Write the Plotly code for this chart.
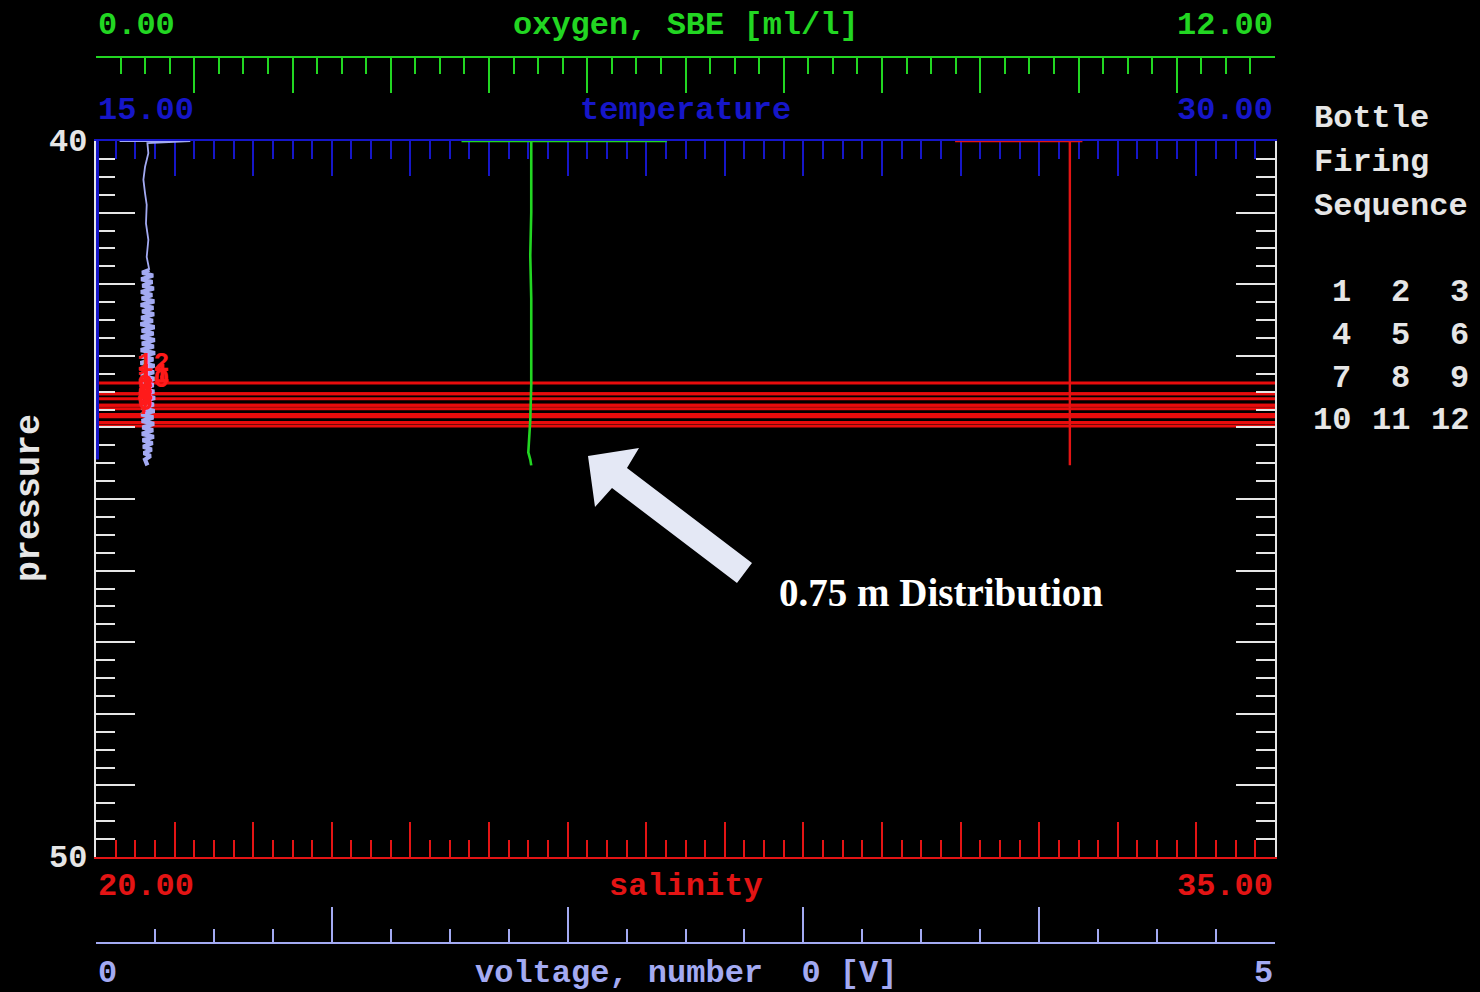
import plotly.graph_objects as go

# ---------------------------------------------------------------------------
# CTD cast, 40-50 dbar window (Seasave style display)
# ---------------------------------------------------------------------------

# oxygen, SBE [ml/l] -- first three points sit on the 40 dbar edge
oxy_pressure = [40.0, 40.0, 40.0, 40.5, 41.0, 41.6, 42.2, 42.8, 43.4, 43.9, 44.2, 44.35, 44.45, 44.53]
oxygen = [5.81, 3.72, 4.43, 4.43, 4.43, 4.42, 4.43, 4.43, 4.43, 4.42, 4.41, 4.40, 4.42, 4.43]

# salinity [PSU]
sal_pressure = [40.0, 40.0, 40.0, 40.8, 41.6, 42.4, 43.2, 44.0, 44.53]
salinity = [30.93, 32.55, 32.39, 32.39, 32.39, 32.39, 32.39, 32.39, 32.39]

# temperature [deg C] -- below the 15 deg scale, so the trace rests on the lower bound
temp_pressure = [40.0, 44.45]
temperature = [15.0, 15.0]

# voltage channel 0 [V] -- quiet above ~41.8 dbar, noisy below
volt_pressure = [40.0, 40.0, 40.03, 40.17, 40.36, 40.54, 40.73, 40.89, 41.15, 41.38, 41.62, 41.80,
                 41.84, 41.88, 41.93, 41.97, 42.02, 42.06, 42.11, 42.15, 42.20, 42.24, 42.29, 42.33,
                 42.38, 42.42, 42.47, 42.51, 42.56, 42.60, 42.65, 42.69, 42.74, 42.78, 42.83, 42.87,
                 42.92, 42.96, 43.01, 43.05, 43.10, 43.14, 43.19, 43.23, 43.28, 43.32, 43.37, 43.41,
                 43.46, 43.50, 43.55, 43.59, 43.64, 43.68, 43.73, 43.77, 43.82, 43.86, 43.91, 43.95,
                 44.00, 44.04, 44.09, 44.13, 44.18, 44.22, 44.27, 44.31, 44.36, 44.40, 44.45, 44.53]
voltage = [0.10, 0.40, 0.218, 0.222, 0.208, 0.201, 0.208, 0.215, 0.212, 0.222, 0.215, 0.226,
           0.196, 0.242, 0.192, 0.239, 0.197, 0.245, 0.191, 0.238, 0.194, 0.247, 0.190, 0.243,
           0.196, 0.246, 0.192, 0.241, 0.189, 0.248, 0.194, 0.244, 0.191, 0.249, 0.195, 0.245,
           0.190, 0.250, 0.193, 0.243, 0.189, 0.248, 0.194, 0.246, 0.191, 0.249, 0.196, 0.244,
           0.190, 0.247, 0.193, 0.250, 0.191, 0.245, 0.195, 0.248, 0.192, 0.243, 0.194, 0.246,
           0.197, 0.242, 0.195, 0.245, 0.198, 0.240, 0.200, 0.236, 0.203, 0.231, 0.208, 0.218]
NOISY_FROM = 11  # index where the noisy section begins

# bottle number -> firing pressure [dbar]
bottles = [1, 2, 3, 4, 5, 6, 7, 8, 9, 10, 11, 12]
bottle_pressure = [43.53, 43.69, 43.74, 43.82, 43.85, 43.93, 43.98, 43.82, 43.69, 43.60, 43.53, 43.38]

# axis end labels
axis_specs = {
    "oxygen": ("oxygen, SBE [ml/l]", "0.00", "12.00", [0, 12]),
    "temperature": ("temperature", "15.00", "30.00", [15, 30]),
    "salinity": ("salinity", "20.00", "35.00", [20, 35]),
    "voltage": ("voltage, number  0 [V]", "0", "5", [0, 5]),
}
pressure_range = [50, 40]

# ---------------------------------------------------------------------------
W, H = 1480, 992
ML, MR, MT, MB = 96, 205, 57, 49
PW, PH = W - ML - MR, H - MT - MB


def px(x):
    return (x - ML) / PW


def py(y):
    return (H - MB - y) / PH


MONO = "Liberation Mono, Courier New, monospace"
SERIF = "Liberation Serif, Times New Roman, serif"

GREEN = "#22d622"
BLUE = "#1616c8"
RED = "#e31414"
LAV = "#a3aaf2"
WHITE = "#e6e6e6"


def x_axis(rng, color, minor_len, **kw):
    cfg = dict(range=rng, showgrid=False, zeroline=False, showticklabels=False,
               ticks="inside", tick0=rng[0], dtick=1, ticklen=35, tickwidth=2, tickcolor=color,
               minor=dict(ticks="inside", tick0=rng[0], dtick=0.25, ticklen=minor_len,
                          tickwidth=2, tickcolor=color, showgrid=False),
               showline=True, linecolor=color, linewidth=2, fixedrange=True)
    cfg.update(kw)
    return cfg


def p_axis(side, **kw):
    cfg = dict(range=pressure_range, domain=[py(857), py(141)], side=side, showgrid=False,
               zeroline=False, showticklabels=False, ticks="inside", tick0=40, dtick=1,
               ticklen=39, tickwidth=2, tickcolor=WHITE,
               minor=dict(ticks="inside", tick0=40, dtick=0.25, ticklen=19, tickwidth=2,
                          tickcolor=WHITE, showgrid=False),
               showline=True, linecolor=WHITE, linewidth=2, mirror=False, fixedrange=True,
               layer="below traces")
    cfg.update(kw)
    return cfg


fig = go.Figure()

fig.add_trace(go.Scatter(x=voltage[:NOISY_FROM + 1], y=volt_pressure[:NOISY_FROM + 1],
                         xaxis="x4", yaxis="y", mode="lines",
                         line=dict(color=LAV, width=1.8), hoverinfo="skip"))
fig.add_trace(go.Scatter(x=voltage[NOISY_FROM:], y=volt_pressure[NOISY_FROM:],
                         xaxis="x4", yaxis="y", mode="lines",
                         line=dict(color=LAV, width=4.2), hoverinfo="skip"))
fig.add_trace(go.Scatter(x=temperature, y=temp_pressure, xaxis="x2", yaxis="y", mode="lines",
                         line=dict(color=BLUE, width=6), hoverinfo="skip"))
fig.add_trace(go.Scatter(x=oxygen, y=oxy_pressure, xaxis="x3", yaxis="y", mode="lines",
                         line=dict(color=GREEN, width=2.6), hoverinfo="skip"))
fig.add_trace(go.Scatter(x=salinity, y=sal_pressure, xaxis="x", yaxis="y", mode="lines",
                         line=dict(color=RED, width=2.4), hoverinfo="skip"))
# right-hand pressure scale carries no data of its own
fig.add_trace(go.Scatter(x=[], y=[], xaxis="x", yaxis="y2", hoverinfo="skip"))

shapes = []
annotations = []

# bottle firing marks across the full width
for b, p in zip(bottles, bottle_pressure):
    shapes.append(dict(type="line", xref="x domain", yref="y", x0=0, x1=1, y0=p, y1=p,
                       line=dict(color="#e80c0c", width=3), layer="below"))
    annotations.append(dict(text=f"<b>{b}</b>", xref="x domain", yref="y", x=0.033, y=p,
                            xanchor="left", yanchor="bottom", yshift=2, showarrow=False,
                            font=dict(family=MONO, size=27, color="#ff1a1a")))

# pointer arrow
arrow_px = [(588, 456), (639, 448), (627, 468), (752, 563), (737, 583),
            (612, 488), (595, 507)]
path = "M " + " L ".join(f"{px(x):.5f},{py(y):.5f}" for x, y in arrow_px) + " Z"
shapes.append(dict(type="path", xref="paper", yref="paper", path=path,
                   fillcolor="#e4e8f5", line=dict(width=0), layer="above"))

annotations.append(dict(text="<b>0.75 m Distribution</b>", xref="paper", yref="paper",
                        x=px(777), y=py(592), xanchor="left", yanchor="middle", showarrow=False,
                        font=dict(family=SERIF, size=39, color="#ffffff")))


def end_labels(key, ypix, color):
    title, lo, hi, _ = axis_specs[key]
    yy = py(ypix)
    for text, x, anchor in ((lo, 0, "left"), (title, 0.5, "center"), (hi, 1, "right")):
        annotations.append(dict(text=f"<b>{text}</b>", xref="paper", yref="paper", x=x, y=yy,
                                xanchor=anchor, yanchor="middle", showarrow=False,
                                font=dict(family=MONO, size=32, color=color)))


end_labels("oxygen", 25, GREEN)
end_labels("temperature", 111, BLUE)
end_labels("salinity", 886, RED)
end_labels("voltage", 973, LAV)

# pressure axis labels
for text, ypix in ((str(pressure_range[1]), 142), (str(pressure_range[0]), 858)):
    annotations.append(dict(text=f"<b>{text}</b>", xref="paper", yref="paper", x=px(89), y=py(ypix),
                            xanchor="right", yanchor="middle", showarrow=False,
                            font=dict(family=MONO, size=32, color=WHITE)))
annotations.append(dict(text="<b>pressure</b>", xref="paper", yref="paper", x=px(30), y=py(498),
                        xanchor="center", yanchor="middle", textangle=-90, showarrow=False,
                        font=dict(family=MONO, size=35, color=WHITE)))

# bottle firing sequence legend
for i, line in enumerate(["Bottle", "Firing", "Sequence"]):
    annotations.append(dict(text=f"<b>{line}</b>", xref="paper", yref="paper", x=px(1312),
                            y=py(119 + 43.5 * i), xanchor="left", yanchor="middle", showarrow=False,
                            font=dict(family=MONO, size=32, color=WHITE)))
col_right = [1353, 1412, 1471]
row_y = [292, 335, 378, 420]
for k, b in enumerate(bottles):
    annotations.append(dict(text=f"<b>{b}</b>", xref="paper", yref="paper", x=px(col_right[k % 3]),
                            y=py(row_y[k // 3]), xanchor="right", yanchor="middle", showarrow=False,
                            font=dict(family=MONO, size=32, color=WHITE)))

fig.update_layout(
    width=W, height=H,
    margin=dict(l=ML, r=MR, t=MT, b=MB, pad=0),
    paper_bgcolor="#000000", plot_bgcolor="#000000",
    showlegend=False,
    xaxis=x_axis(axis_specs["salinity"][3], RED, 17, anchor="y", side="bottom"),
    xaxis2=x_axis(axis_specs["temperature"][3], BLUE, 18, anchor="y", side="top", overlaying="x",
                  layer="below traces"),
    xaxis3=x_axis(axis_specs["oxygen"][3], GREEN, 16, anchor="free", position=1, side="top",
                  overlaying="x"),
    xaxis4=x_axis(axis_specs["voltage"][3], LAV, 13, anchor="free", position=0, side="bottom",
                  overlaying="x"),
    yaxis=p_axis("left", anchor="x"),
    yaxis2=p_axis("right", anchor="x", overlaying="y", layer="above traces"),
    shapes=shapes,
    annotations=annotations,
)

fig.write_html("out.html")
